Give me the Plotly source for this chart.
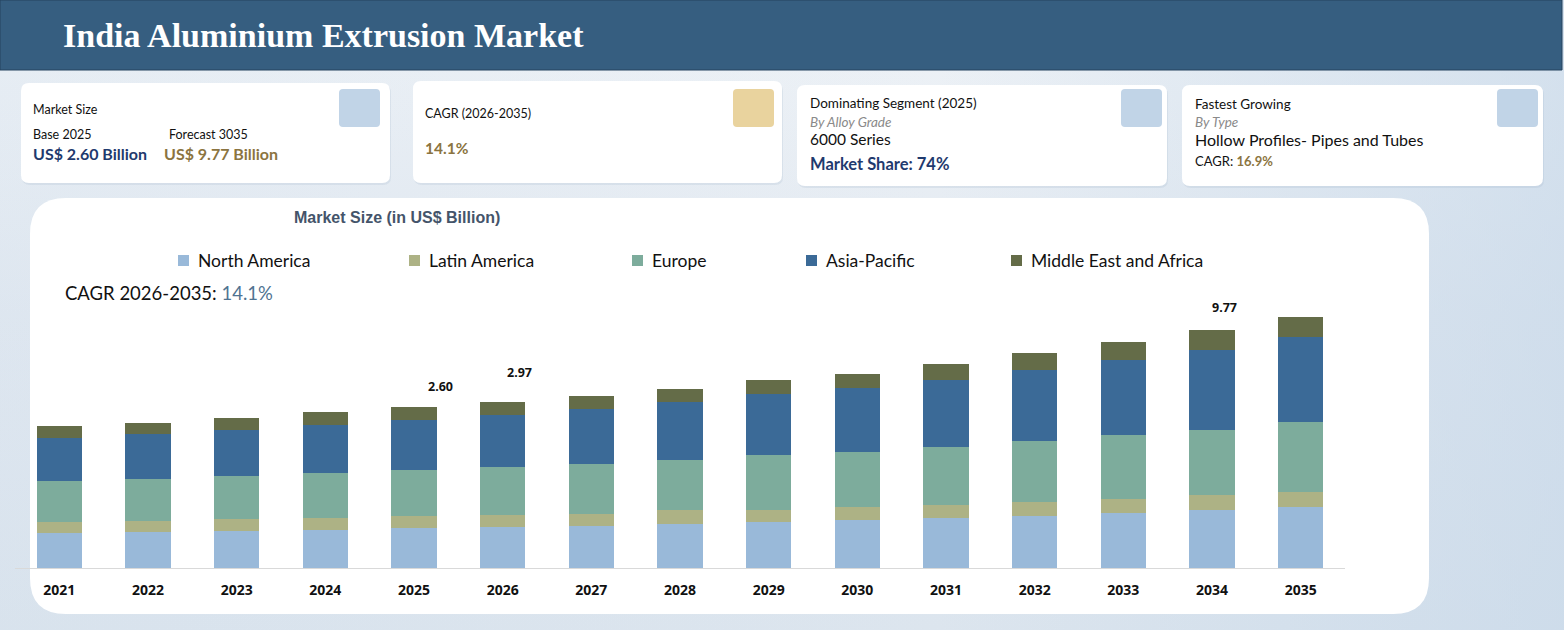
import base64
import plotly.graph_objects as go

# ---------------- data ----------------
years = ["2021", "2022", "2023", "2024", "2025", "2026", "2027", "2028",
         "2029", "2030", "2031", "2032", "2033", "2034", "2035"]
north_america = [0.57, 0.59, 0.60, 0.62, 0.65, 0.67, 0.68, 0.72, 0.75, 0.78, 0.81, 0.85, 0.89, 0.94, 0.99]
latin_america = [0.18, 0.18, 0.20, 0.20, 0.19, 0.19, 0.20, 0.23, 0.20, 0.21, 0.21, 0.23, 0.23, 0.24, 0.24]
europe = [0.67, 0.68, 0.69, 0.73, 0.76, 0.78, 0.81, 0.81, 0.88, 0.89, 0.94, 0.99, 1.04, 1.07, 1.15]
asia_pacific = [0.70, 0.73, 0.75, 0.78, 0.81, 0.85, 0.89, 0.94, 0.99, 1.04, 1.09, 1.15, 1.22, 1.30, 1.37]
middle_east_africa = [0.18, 0.18, 0.20, 0.20, 0.20, 0.21, 0.21, 0.21, 0.23, 0.24, 0.26, 0.28, 0.29, 0.31, 0.33]

series_names = ["North America", "Latin America", "Europe", "Asia-Pacific", "Middle East and Africa"]
series_values = [north_america, latin_america, europe, asia_pacific, middle_east_africa]

label_years = ["2025", "2026", "2034"]
label_texts = ["2.60", "2.97", "9.77"]

# ---------------- style ----------------
W, H = 1564, 630
ML, MR, MT, MB = 15, 219, 300, 62
PW, PH = W - ML - MR, H - MT - MB
Y_MAX = 4.355
series_colors = ["#99b9d9", "#adb285", "#7dac9c", "#3b6a97", "#646c48"]
label_offsets = [(26, 21), (17, 29), (12, 23)]  # (xshift, yshift) px
GOLD = "#8b7440"
NAVY = "#1f3a6e"
FONT = "Lato"


def px_x(x):
    return (x - ML) / PW


def px_y(y):
    return (H - MB - y) / PH


def rrect(x0, y0, x1, y1, r):
    def P(x, y):
        return f"{px_x(x):.6f},{px_y(y):.6f}"
    return (f"M {P(x0 + r, y0)} L {P(x1 - r, y0)} Q {P(x1, y0)} {P(x1, y0 + r)} "
            f"L {P(x1, y1 - r)} Q {P(x1, y1)} {P(x1 - r, y1)} "
            f"L {P(x0 + r, y1)} Q {P(x0, y1)} {P(x0, y1 - r)} "
            f"L {P(x0, y0 + r)} Q {P(x0, y0)} {P(x0 + r, y0)} Z")


fig = go.Figure()
for name, vals, col in zip(series_names, series_values, series_colors):
    fig.add_trace(go.Bar(x=years, y=vals, name=name, marker=dict(color=col, line=dict(width=0)),
                         showlegend=False))

totals = [sum(v[i] for v in series_values) for i in range(len(years))]

shapes = []
annotations = []

# header
shapes.append(dict(type="rect", xref="paper", yref="paper", x0=px_x(0), x1=px_x(1562), y0=px_y(70), y1=px_y(0),
                   fillcolor="#365e80", line=dict(color="#24425e", width=1), layer="below"))
annotations.append(dict(xref="paper", yref="paper", x=px_x(61), y=px_y(35), xanchor="left", yanchor="middle",
                        text="<b>India Aluminium Extrusion Market</b>", showarrow=False,
                        font=dict(family="Liberation Serif", size=34, color="white")))

# cards
cards = [(21, 83, 390, 183, 339), (413, 81, 782, 183, 733), (797, 85, 1167, 186, 1121), (1182, 85, 1543, 186, 1497)]
square_colors = ["#c1d4e7", "#e9d39e", "#c1d4e7", "#c1d4e7"]
for (x0, y0, x1, y1, sx), sc in zip(cards, square_colors):
    shapes.append(dict(type="path", xref="paper", yref="paper", path=rrect(x0 + 1, y0 + 2, x1 + 1, y1 + 2, 8),
                       fillcolor="rgba(150,170,195,0.18)", line=dict(width=0), layer="below"))
    shapes.append(dict(type="path", xref="paper", yref="paper", path=rrect(x0, y0, x1, y1, 8),
                       fillcolor="white", line=dict(width=0), layer="below"))
    shapes.append(dict(type="path", xref="paper", yref="paper", path=rrect(sx, 89, sx + 41, 127, 4),
                       fillcolor=sc, line=dict(width=0), layer="below"))

# chart panel
shapes.append(dict(type="path", xref="paper", yref="paper", path=rrect(30, 198, 1429, 614, 36),
                   fillcolor="white", line=dict(width=0), layer="below"))


def txt(x, y, text, size, color="#111111", family=FONT):
    annotations.append(dict(xref="paper", yref="paper", x=px_x(x), y=px_y(y), xanchor="left", yanchor="middle",
                            text=text, showarrow=False, font=dict(family=family, size=size, color=color)))


# card 1
txt(31, 109, "Market Size", 12.5)
txt(31, 134, "Base 2025", 12.5)
txt(167, 134, "Forecast 3035", 12.5)
txt(31, 153, "<b>US$ 2.60 Billion</b>", 16, NAVY)
txt(162, 153, "<b>US$ 9.77 Billion</b>", 16, GOLD)
# card 2
txt(423, 113, "CAGR (2026-2035)", 12.5)
txt(423, 148, "<b>14.1%</b>", 15.5, GOLD)
# card 3
txt(808, 103, "Dominating Segment (2025)", 13.5)
txt(808, 122, "<i>By Alloy Grade</i>", 13.5, "#8a8a8a")
txt(808, 139, "6000 Series", 15.5)
txt(808, 164, "<b>Market Share: 74%</b>", 16.5, NAVY)
# card 4
txt(1193, 104, "Fastest Growing", 13.5)
txt(1193, 122, "<i>By Type</i>", 13.5, "#8a8a8a")
txt(1193, 139, "Hollow Profiles- Pipes and Tubes", 16)
txt(1193, 161, f"CAGR: <b><span style='color:{GOLD}'>16.9%</span></b>", 13)

# chart title
txt(292, 217, "<b>Market Size (in US$ Billion)</b>", 16, "#44546a", "Liberation Sans")

# legend
legend_x = [178, 409, 632, 806, 1011]
for lx, name, col in zip(legend_x, series_names, series_colors):
    shapes.append(dict(type="rect", xref="paper", yref="paper", x0=px_x(lx), x1=px_x(lx + 11),
                       y0=px_y(266), y1=px_y(255), fillcolor=col, line=dict(width=0)))
    txt(lx + 18, 260, name, 17.5, "#111111")

txt(63, 293, "CAGR 2026-2035: <span style='color:#4f7391'>14.1%</span>", 18.5, "#111111")

# total labels
for yr, t, (dx, dy) in zip(label_years, label_texts, label_offsets):
    i = years.index(yr)
    annotations.append(dict(x=i, y=totals[i], xref="x", yref="y", text=f"<b>{t}</b>", showarrow=False,
                            xshift=dx, yshift=dy, yanchor="middle",
                            font=dict(family="Noto Sans", size=12.5, color="#111111")))

# background gradient
svg = (f"<svg xmlns='http://www.w3.org/2000/svg' width='{W}' height='{H}'>"
       "<defs><linearGradient id='v' x1='0' y1='0' x2='0' y2='1'>"
       "<stop offset='0' stop-color='#eff3f7'/><stop offset='0.5' stop-color='#e2e9f1'/>"
       "<stop offset='1' stop-color='#dce5ee'/></linearGradient>"
       "<linearGradient id='h' x1='0' y1='0' x2='1' y2='0'>"
       "<stop offset='0' stop-color='#c4d6e8' stop-opacity='0.15'/>"
       "<stop offset='0.6' stop-color='#c4d6e8' stop-opacity='0'/>"
       "<stop offset='1' stop-color='#c4d6e8' stop-opacity='0.6'/></linearGradient></defs>"
       f"<rect width='{W}' height='{H}' fill='url(#v)'/><rect width='{W}' height='{H}' fill='url(#h)'/></svg>")
bg_src = "data:image/svg+xml;base64," + base64.b64encode(svg.encode()).decode()

fig.update_layout(
    width=W, height=H,
    margin=dict(l=ML, r=MR, t=MT, b=MB, pad=0, autoexpand=False),
    barmode="stack", bargap=0.49,
    paper_bgcolor="#e6ecf3", plot_bgcolor="rgba(0,0,0,0)",
    shapes=shapes, annotations=annotations,
    images=[dict(source=bg_src, xref="paper", yref="paper", x=px_x(0), y=px_y(0),
                 sizex=W / PW, sizey=H / PH, xanchor="left", yanchor="top", sizing="stretch", layer="below")],
    xaxis=dict(type="category", range=[-0.5, len(years) - 0.5], automargin=False,
               showline=True, linecolor="#d9d9d9", linewidth=1, showgrid=False,
               ticks="", ticklabelstandoff=9, zeroline=False,
               tickfont=dict(family="Noto Sans", size=14, color="#111111", weight="bold")),
    yaxis=dict(visible=False, range=[0, Y_MAX], showgrid=False, zeroline=False, automargin=False),
    hovermode=False,
)

fig.write_html("out.html")
